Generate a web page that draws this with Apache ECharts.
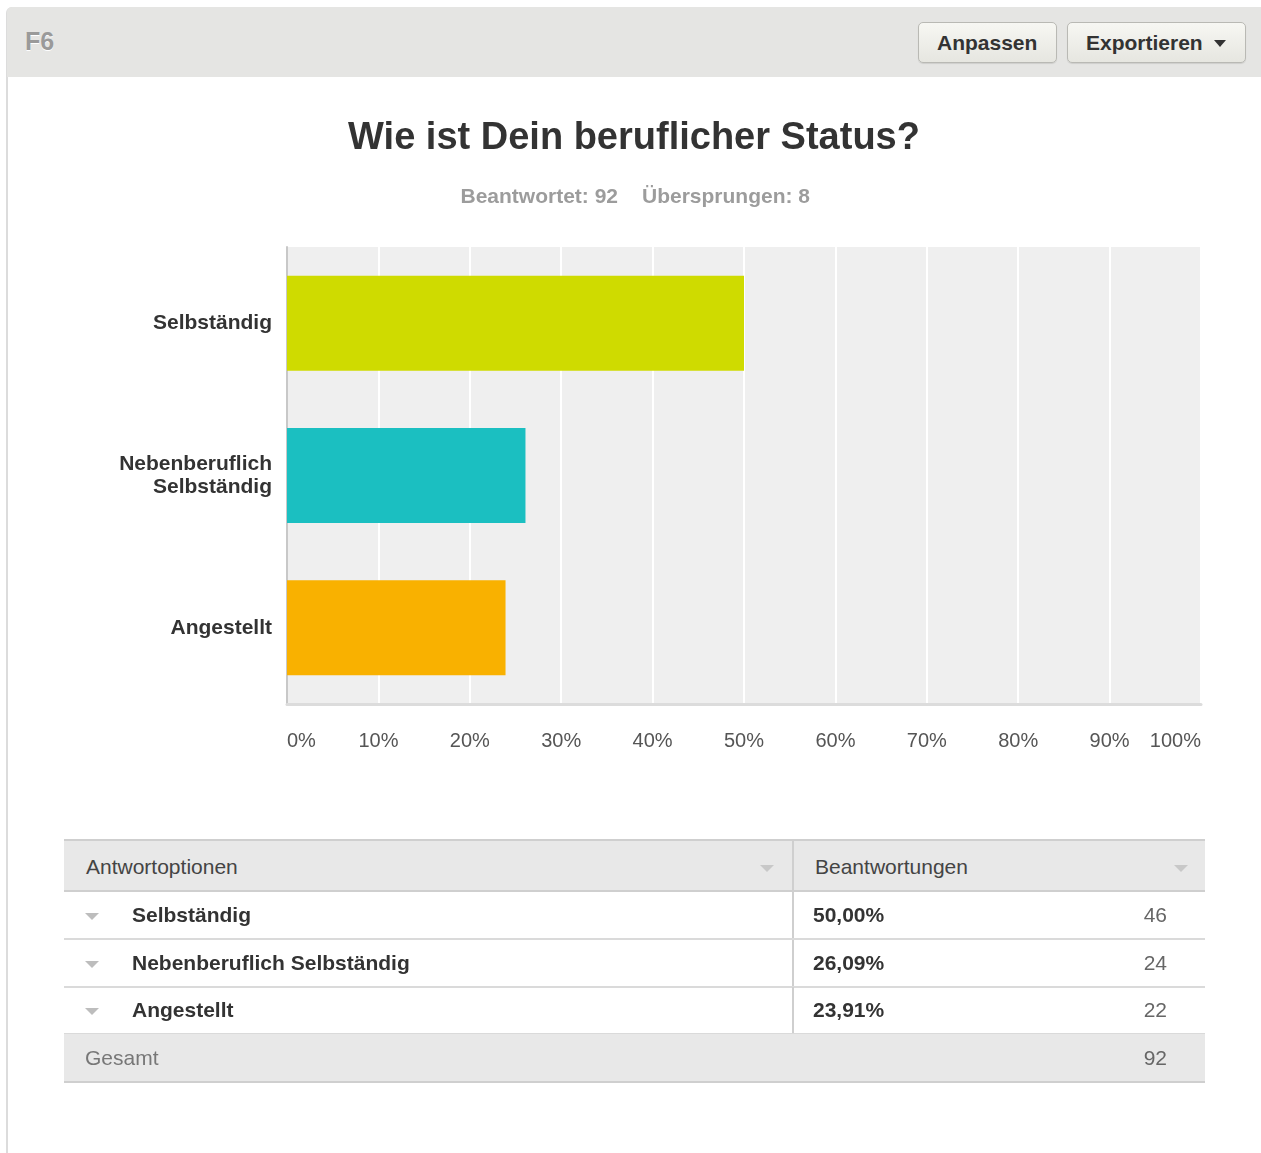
<!DOCTYPE html>
<html>
<head>
<meta charset="utf-8">
<script src="https://cdn.jsdelivr.net/npm/echarts@6/dist/echarts.min.js"></script>
<style>
  * { box-sizing: border-box; }
  body { margin: 0; width: 1261px; height: 1153px; overflow: hidden; background: #fff;
         font-family: "Liberation Sans", Arial, Helvetica, sans-serif; }
  #panel { position: absolute; left: 6px; top: 7px; width: 1270px; height: 1160px;
           border-left: 2px solid #dcdcdc; border-top: 1px solid #dcdcdc; border-radius: 6px 0 0 0; z-index: 0; }
  #chart { position: absolute; left: 0; top: 0; width: 1261px; height: 1153px; z-index: 1; }
  #head { position: absolute; left: 7px; top: 7px; width: 1270px; height: 70px; background: #e5e5e3;
          border-radius: 5px 0 0 0; z-index: 2; }
  #head .qid { position: absolute; left: 18px; top: 20px; font-size: 25px; font-weight: bold; color: #9a9a9a;
               text-shadow: 0 1px 0 #fff; }
  .btn { position: absolute; top: 15px; height: 41px; border: 1px solid #b9b9b4; border-radius: 5px;
         background: linear-gradient(#f7f7f3, #e6e6e0); font-size: 21px; font-weight: bold; color: #333;
         line-height: 39px; padding-left: 18px; box-shadow: 0 1px 1px rgba(0,0,0,0.1); }
  .tri { position: absolute; width: 0; height: 0; border-left: 7px solid transparent;
         border-right: 7px solid transparent; border-top: 7px solid #c4c4c4; }
  #table { position: absolute; left: 64px; top: 839px; width: 1141px; z-index: 2; color: #333; font-size: 21px; }
  .row { position: absolute; left: 0; width: 1141px; }
  .cell { position: absolute; top: 0; }
</style>
</head>
<body>
<div id="panel"></div>
<div id="chart"></div>
<div id="head">
  <div class="qid">F6</div>
  <div class="btn" style="left:911px;width:139px;">Anpassen</div>
  <div class="btn" style="left:1060px;width:179px;">Exportieren<span class="tri" style="left:146px;top:17px;border-top-color:#333;border-left-width:6px;border-right-width:6px;"></span></div>
</div>
<div id="table"></div>
<script>
const categories = ['Selbständig', 'Nebenberuflich\nSelbständig', 'Angestellt'];
const tableLabels = ['Selbständig', 'Nebenberuflich Selbständig', 'Angestellt'];
const percents = [50.00, 26.09, 23.91];
const counts = [46, 24, 22];
const barColors = ['#cfdb00', '#1bbfc1', '#f9b100'];
const xTicks = [0, 10, 20, 30, 40, 50, 60, 70, 80, 90, 100];
const answered = 92;
const skipped = 8;
const total = 92;
const titleText = 'Wie ist Dein beruflicher Status?';
const columnTitles = ['Antwortoptionen', 'Beantwortungen'];
const totalLabel = 'Gesamt';

const fmtPct = (v) => v.toFixed(2).replace('.', ',') + '%';

// table below the chart
const table = document.getElementById('table');
const addRow = (top, height, html, style) => {
  const div = document.createElement('div');
  div.className = 'row';
  div.style.cssText = `top:${top}px;height:${height}px;line-height:${height - 2}px;` + style;
  div.innerHTML = html;
  table.appendChild(div);
};
addRow(0, 53,
  `<span class="cell" style="left:22px;color:#444;">${columnTitles[0]}</span>
   <span class="tri" style="left:696px;top:24px;border-top-color:#c8c8c8;"></span>
   <span class="cell" style="left:728px;top:0;height:51px;border-left:2px solid #cfcfcf;"></span>
   <span class="cell" style="left:751px;color:#444;">${columnTitles[1]}</span>
   <span class="tri" style="left:1110px;top:24px;border-top-color:#c8c8c8;"></span>`,
  'background:#e8e8e8;border-top:2px solid #cfcfcf;border-bottom:2px solid #cfcfcf;');
tableLabels.forEach((label, i) => {
  addRow(53 + i * 47.7, 48,
    `<span class="tri" style="left:21px;top:21px;border-top-color:#bdbdbd;"></span>
     <span class="cell" style="left:68px;font-weight:bold;">${label}</span>
     <span class="cell" style="left:728px;height:46px;border-left:2px solid #cfcfcf;"></span>
     <span class="cell" style="left:749px;font-weight:bold;">${fmtPct(percents[i])}</span>
     <span class="cell" style="right:38px;color:#666;">${counts[i]}</span>`,
    'border-bottom:2px solid #dadada;');
});
addRow(53 + 3 * 47.7 - 1, 49,
  `<span class="cell" style="left:21px;color:#777;">${totalLabel}</span>
   <span class="cell" style="right:38px;color:#666;">${total}</span>`,
  'background:#e8e8e8;border-bottom:2px solid #cfcfcf;');

// chart
const chart = echarts.init(document.getElementById('chart'));
const font = '"Liberation Sans", Arial, Helvetica, sans-serif';
chart.setOption({
  backgroundColor: 'transparent',
  animation: false,
  textStyle: { fontFamily: font },
  graphic: [
    { type: 'text', x: 634, y: 139, style: { text: titleText, font: 'bold 38px ' + font, fill: '#333',
      textAlign: 'center', textVerticalAlign: 'middle' } },
    { type: 'text', x: 618, y: 197, style: { text: 'Beantwortet: ' + answered, font: 'bold 21px ' + font,
      fill: '#9c9c9c', textAlign: 'right', textVerticalAlign: 'middle' } },
    { type: 'text', x: 642, y: 197, style: { text: 'Übersprungen: ' + skipped, font: 'bold 21px ' + font,
      fill: '#9c9c9c', textAlign: 'left', textVerticalAlign: 'middle' } }
  ],
  grid: {
    left: 287, top: 247, width: 914, height: 457,
    show: true, backgroundColor: '#efefef', borderWidth: 0
  },
  xAxis: {
    type: 'value', min: xTicks[0], max: xTicks[xTicks.length - 1], interval: 10,
    axisLine: { show: true, lineStyle: { color: '#dcdcdc', width: 3 } },
    axisTick: { show: false },
    splitLine: { show: true, lineStyle: { color: '#ffffff', width: 2 } },
    axisLabel: {
      margin: 27, fontSize: 20, color: '#555',
      alignMinLabel: 'left', alignMaxLabel: 'right',
      formatter: (v) => v + '%'
    }
  },
  yAxis: {
    type: 'category', inverse: true, data: categories,
    axisLine: { show: true, lineStyle: { color: '#c8c8c8', width: 2 } },
    axisTick: { show: false },
    axisLabel: { margin: 15, fontSize: 21, fontWeight: 'bold', color: '#333', lineHeight: 23, align: 'right',
      padding: [4, 0, 0, 0] }
  },
  series: [{
    type: 'bar',
    barWidth: 95,
    data: percents.map((v, i) => ({ value: v, itemStyle: { color: barColors[i] } }))
  }]
});
</script>
</body>
</html>
